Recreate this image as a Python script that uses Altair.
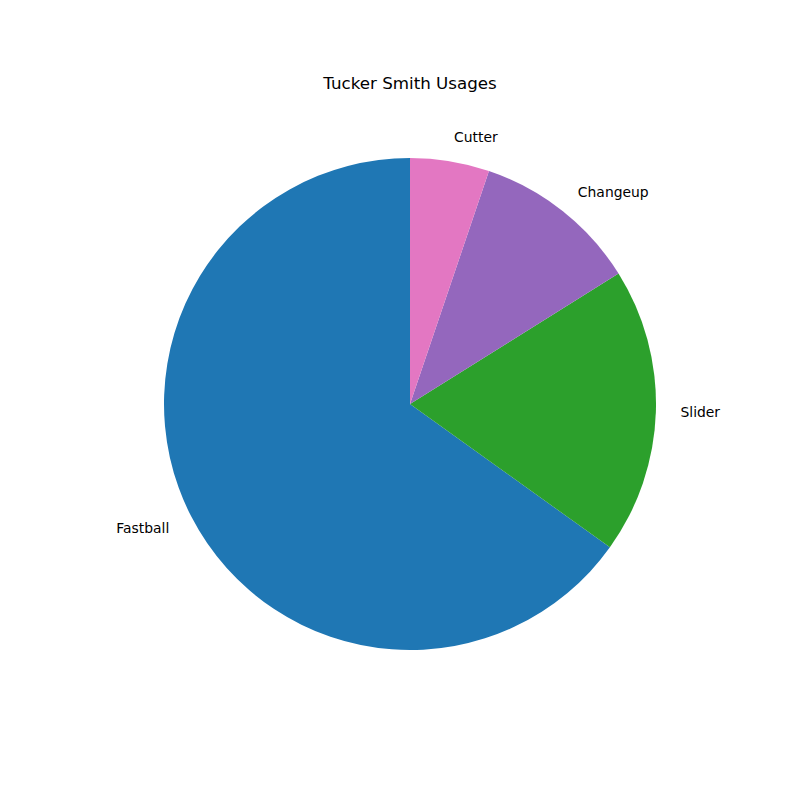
import altair as alt
import pandas as pd

pitches = ["Fastball", "Slider", "Changeup", "Cutter"]
usage = [65.1, 18.8, 10.9, 5.2]
colors = ["#1f77b4", "#2ca02c", "#9467bd", "#e377c2"]
chart_title = "Tucker Smith Usages"

df = pd.DataFrame({"pitch": pitches, "usage": usage})
total = float(sum(usage))

base = alt.Chart(df).transform_window(idx="row_number()")
theta_scale = alt.Scale(domain=[0, total])

arcs = base.mark_arc(outerRadius=246).encode(
    theta=alt.Theta("usage:Q", stack=True, scale=theta_scale),
    color=alt.Color("pitch:N", scale=alt.Scale(domain=pitches, range=colors), legend=None),
    order=alt.Order("idx:Q", sort="descending"),
)

labels_base = base.transform_window(
    cum="sum(usage)",
    sort=[alt.SortField("idx", order="descending")],
    frame=[None, 0],
).transform_calculate(mid="datum.cum - datum.usage / 2")

text_style = dict(radius=270.6, baseline="middle", dy=1, fontSize=13.9, font="DejaVu Sans", color="black")

left_text = labels_base.transform_filter(f"datum.mid < {total / 2}").mark_text(
    align="left", **text_style
).encode(
    theta=alt.Theta("mid:Q", stack=False, scale=theta_scale),
    text="pitch:N",
)

right_text = labels_base.transform_filter(f"datum.mid >= {total / 2}").mark_text(
    align="right", **text_style
).encode(
    theta=alt.Theta("mid:Q", stack=False, scale=theta_scale),
    text="pitch:N",
)

chart = alt.layer(arcs, left_text, right_text).properties(
    width=620,
    height=616,
    title=alt.TitleParams(
        chart_title, fontSize=16.7, font="DejaVu Sans", fontWeight="normal",
        color="black", offset=3, anchor="middle",
    ),
    autosize=alt.AutoSizeParams(type="none"),
    padding={"left": 100, "top": 96, "right": 80, "bottom": 88},
    background="white",
).configure_view(stroke=None)

chart.save("out.html", embed_options={"renderer": "svg", "actions": False})
